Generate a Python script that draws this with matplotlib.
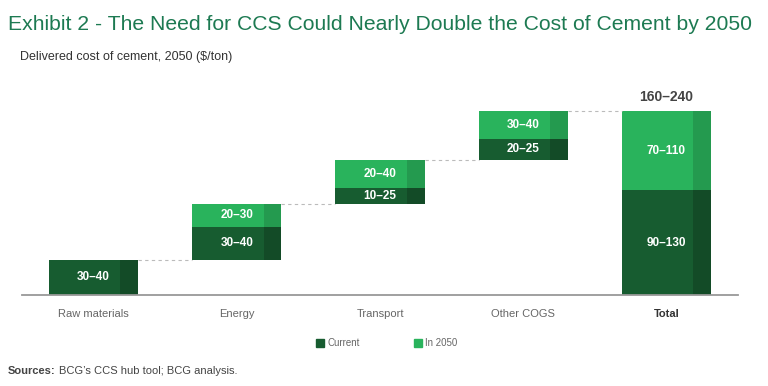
import matplotlib.pyplot as plt
import numpy as np

plt.rcParams["font.family"] = ["Liberation Sans", "DejaVu Sans"]

# data (bar heights in chart units, labels as printed)
categories = ["Raw materials", "Energy", "Transport", "Other COGS", "Total"]
current = [35, 33, 16, 21]
in_2050 = [0, 23, 28, 28]
current_labels = ["30–40", "30–40", "10–25", "20–25", "90–130"]
in_2050_labels = ["", "20–30", "20–40", "30–40", "70–110"]
total_label = "160–240"

dark = "#175c30"
dark_shade = "#134b27"
light = "#29b35c"
light_shade = "#249a4f"

fig = plt.figure(figsize=(7.68, 3.86), dpi=100)
ax = fig.add_axes([22 / 768, 91 / 386, 716 / 768, 200 / 386])

x = np.arange(len(categories))
w = 0.622
shade_w = w * 0.2

bottoms = []
b = 0
for i in range(4):
    bottoms.append(b)
    b += current[i] + in_2050[i]
total_cur = sum(current)
total_new = sum(in_2050)

cur_vals = current + [total_cur]
new_vals = in_2050 + [total_new]
base_vals = bottoms + [0]

for i in range(5):
    b0 = base_vals[i]
    c = cur_vals[i]
    n = new_vals[i]
    ax.bar(x[i], c, w, bottom=b0, color=dark, linewidth=0)
    ax.bar(x[i] + w / 2 - shade_w / 2, c, shade_w, bottom=b0, color=dark_shade, linewidth=0)
    ax.text(x[i], b0 + c / 2, current_labels[i], ha="center", va="center",
            color="white", fontsize=8.5, fontweight="bold")
    if n > 0:
        ax.bar(x[i], n, w, bottom=b0 + c, color=light, linewidth=0)
        ax.bar(x[i] + w / 2 - shade_w / 2, n, shade_w, bottom=b0 + c, color=light_shade, linewidth=0)
        ax.text(x[i], b0 + c + n / 2, in_2050_labels[i], ha="center", va="center",
                color="white", fontsize=8.5, fontweight="bold")

# dashed connectors
for i in range(4):
    top = base_vals[i] + cur_vals[i] + new_vals[i]
    ax.plot([x[i] + w / 2, x[i + 1] - w / 2], [top, top], ls=(0, (3, 3)),
            color="#bbbbbb", lw=0.8)

ax.text(x[4], total_cur + total_new + 7, total_label, ha="center", va="bottom",
        fontsize=10, fontweight="bold", color="#444444")

ax.set_xlim(-0.5, 4.5)
ax.set_ylim(0, 200)
for s in ["top", "right", "left"]:
    ax.spines[s].set_visible(False)
ax.spines["bottom"].set_color("#999999")
ax.spines["bottom"].set_linewidth(1.3)
ax.set_yticks([])
ax.set_xticks(x)
ax.set_xticklabels(categories, fontsize=8, color="#666666")
ax.tick_params(axis="x", length=0, pad=10)
ax.get_xticklabels()[-1].set_fontweight("bold")
ax.get_xticklabels()[-1].set_color("#333333")

title = fig.text(8 / 768, 1 - 25 / 386,
                 "Exhibit 2 - The Need for CCS Could Nearly Double the Cost of Cement by 2050",
                 fontsize=15, color="#1d7a52", va="center", ha="left")
fig.text(20 / 768, 1 - 57 / 386, "Delivered cost of cement, 2050 ($/ton)",
         fontsize=9, color="#333333", va="center", ha="left")

# legend
fig.patches.append(plt.Rectangle((316 / 768, 1 - 347 / 386), 8 / 768, 8 / 386,
                                 transform=fig.transFigure, color=dark))
fig.text(327 / 768, 1 - 343 / 386, "Current", fontsize=7, color="#666666", va="center")
fig.patches.append(plt.Rectangle((414 / 768, 1 - 347 / 386), 8 / 768, 8 / 386,
                                 transform=fig.transFigure, color=light))
fig.text(425 / 768, 1 - 343 / 386, "In 2050", fontsize=7, color="#666666", va="center")

src = fig.text(8 / 768, 1 - 371 / 386, "Sources:", fontsize=8, fontweight="bold",
               color="#444444", va="center")

# fit title width and place the sources text after the bold part
fig.canvas.draw()
r = fig.canvas.get_renderer()
tw = title.get_window_extent(r).width
title.set_fontsize(15 * 744 / tw)
sw = src.get_window_extent(r).x1
fig.text((sw + 3) / 768, 1 - 371 / 386, "BCG’s CCS hub tool; BCG analysis.",
         fontsize=8, color="#444444", va="center")

fig.savefig("out.png", dpi=100)
